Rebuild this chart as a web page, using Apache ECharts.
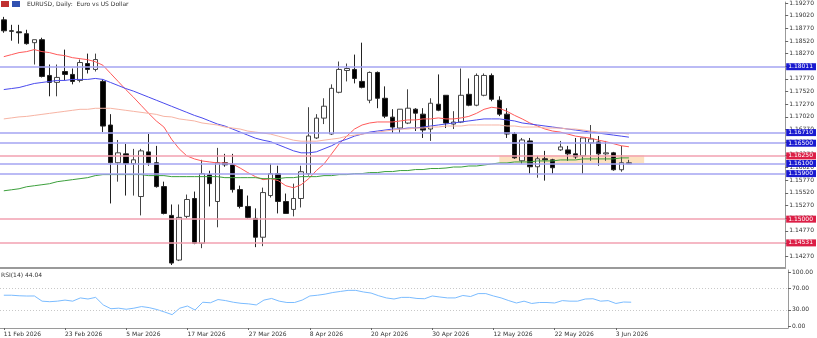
<!DOCTYPE html>
<html><head><meta charset="utf-8">
<script src="https://cdn.jsdelivr.net/npm/echarts@6/dist/echarts.min.js"></script>
<style>html,body{margin:0;padding:0;background:#fff}#c{width:817px;height:338px}</style>
</head><body><div id="c"></div>
<script>
// ---- data ----
const firstTradingDay = '2026-02-11';
const slotCount = 103; // chart width in daily slots (incl. empty right margin)

const opens = [1.18937,1.18721,1.18700,1.18663,1.18486,1.18545,1.17839,1.17702,1.17917,1.17859,1.17741,1.18074,1.17957,1.17721,1.16859,1.16114,1.16290,1.16094,1.15447,1.16329,1.16114,1.15643,1.15074,1.14192,1.15055,1.15408,1.14525,1.15878,1.15349,1.16114,1.16074,1.15584,1.15251,1.15015,1.14643,1.15466,1.15898,1.15349,1.15192,1.15408,1.15898,1.16604,1.16996,1.16682,1.17506,1.17937,1.17957,1.17721,1.17349,1.17898,1.17388,1.17015,1.16800,1.16898,1.17172,1.17074,1.16780,1.17270,1.17447,1.16878,1.16918,1.17466,1.17251,1.17447,1.17839,1.17349,1.17074,1.16682,1.16153,1.16545,1.16035,1.16192,1.16172,1.16368,1.16368,1.16290,1.16251,1.16506,1.16525,1.16290,1.16310,1.15976,1.16094];
const closes = [1.18721,1.18712,1.18682,1.18467,1.18545,1.17819,1.17702,1.17800,1.17859,1.17721,1.18094,1.17957,1.18153,1.16839,1.16114,1.16310,1.16094,1.16172,1.16349,1.16114,1.15643,1.15113,1.14133,1.15035,1.15388,1.14525,1.15898,1.15702,1.16114,1.16074,1.15584,1.15251,1.15035,1.14643,1.15525,1.15898,1.15349,1.15113,1.15408,1.15937,1.16643,1.16996,1.17231,1.17584,1.17957,1.17976,1.17780,1.17604,1.17898,1.17388,1.17035,1.16819,1.17172,1.17192,1.17094,1.16760,1.17290,1.17152,1.16898,1.16918,1.17447,1.17251,1.17839,1.17839,1.17368,1.17074,1.16682,1.16212,1.16564,1.16035,1.16192,1.16172,1.16016,1.16427,1.16290,1.16231,1.16604,1.16584,1.16290,1.16310,1.15976,1.16114,1.16114];
const lows = [1.18682,1.18525,1.18467,1.18447,1.18055,1.17800,1.17427,1.17427,1.17741,1.17663,1.17702,1.17878,1.17917,1.16721,1.15310,1.15741,1.15466,1.15466,1.15074,1.16055,1.15623,1.15094,1.14094,1.14172,1.15015,1.14505,1.14427,1.15251,1.14839,1.16035,1.15525,1.15212,1.15015,1.14447,1.14466,1.15427,1.15113,1.15113,1.15055,1.15231,1.15859,1.16584,1.16878,1.16662,1.17486,1.17721,1.17682,1.17584,1.17290,1.17192,1.16996,1.16702,1.16702,1.16878,1.16741,1.16604,1.16545,1.17133,1.16800,1.16780,1.16898,1.17231,1.17231,1.17427,1.17329,1.17035,1.16604,1.16192,1.16094,1.15898,1.15819,1.15761,1.15898,1.16349,1.16153,1.16192,1.15898,1.16153,1.16055,1.16153,1.15957,1.15937,1.16094];
const highs = [1.18996,1.18839,1.18839,1.18741,1.18545,1.18584,1.18055,1.18055,1.18349,1.17976,1.18153,1.18270,1.18270,1.17760,1.17074,1.16564,1.16486,1.16388,1.16388,1.16682,1.16447,1.15741,1.15290,1.15290,1.15486,1.15545,1.16172,1.15957,1.16408,1.16290,1.16290,1.15662,1.15466,1.15212,1.15623,1.16094,1.16055,1.15506,1.15702,1.16055,1.17211,1.17074,1.17388,1.17663,1.18114,1.18074,1.18251,1.18486,1.17917,1.17917,1.17623,1.17172,1.17172,1.17565,1.17192,1.17192,1.17388,1.17859,1.17447,1.17133,1.17976,1.17780,1.17878,1.17878,1.17878,1.17427,1.17192,1.16721,1.16604,1.16604,1.16251,1.16349,1.16192,1.16545,1.16447,1.16604,1.16604,1.16859,1.16643,1.16545,1.16329,1.16447,1.16172];

const maFast = [1.1821,1.1825,1.1829,1.1831,1.1835,1.1831,1.1829,1.1825,1.1823,1.1819,1.1817,1.1815,1.1811,1.1804,1.1788,1.1772,1.1756,1.1741,1.1725,1.1709,1.1694,1.1682,1.1658,1.1639,1.1625,1.1619,1.1615,1.1613,1.1611,1.1611,1.1609,1.1601,1.1592,1.1584,1.1578,1.1580,1.1576,1.1566,1.1562,1.1568,1.1580,1.1596,1.1609,1.1629,1.1649,1.1664,1.1678,1.1686,1.1690,1.1692,1.1692,1.1692,1.1694,1.1696,1.1696,1.1698,1.1698,1.1700,1.1698,1.1698,1.1700,1.1703,1.1709,1.1717,1.1721,1.1719,1.1713,1.1705,1.1698,1.1690,1.1684,1.1678,1.1674,1.1672,1.1668,1.1664,1.1662,1.1660,1.1656,1.1653,1.1649,1.1645,1.1643];
const maMid = [1.1756,1.1758,1.1760,1.1764,1.1768,1.1770,1.1772,1.1774,1.1774,1.1776,1.1776,1.1776,1.1778,1.1776,1.1770,1.1764,1.1758,1.1753,1.1747,1.1741,1.1735,1.1729,1.1723,1.1717,1.1711,1.1705,1.1700,1.1694,1.1688,1.1684,1.1678,1.1672,1.1666,1.1660,1.1656,1.1653,1.1647,1.1641,1.1635,1.1631,1.1631,1.1633,1.1639,1.1645,1.1653,1.1658,1.1664,1.1668,1.1672,1.1674,1.1676,1.1678,1.1678,1.1680,1.1680,1.1682,1.1684,1.1686,1.1688,1.1690,1.1692,1.1694,1.1696,1.1698,1.1698,1.1698,1.1696,1.1694,1.1690,1.1688,1.1686,1.1684,1.1682,1.1680,1.1678,1.1676,1.1674,1.1672,1.1670,1.1668,1.1666,1.1664,1.1662];
const maSlow = [1.1698,1.1700,1.1702,1.1703,1.1705,1.1707,1.1709,1.1711,1.1713,1.1715,1.1717,1.1717,1.1719,1.1719,1.1719,1.1717,1.1715,1.1713,1.1711,1.1709,1.1707,1.1703,1.1702,1.1698,1.1696,1.1694,1.1690,1.1688,1.1686,1.1682,1.1680,1.1678,1.1674,1.1672,1.1670,1.1668,1.1664,1.1660,1.1656,1.1654,1.1654,1.1654,1.1656,1.1658,1.1660,1.1664,1.1666,1.1668,1.1670,1.1672,1.1674,1.1676,1.1678,1.1678,1.1680,1.1680,1.1682,1.1682,1.1684,1.1684,1.1684,1.1686,1.1686,1.1686,1.1686,1.1686,1.1684,1.1684,1.1682,1.1682,1.1682,1.1680,1.1680,1.1680,1.1678,1.1678,1.1676,1.1674,1.1672,1.1672,1.1670,1.1670,1.1668];
const maLong = [1.1556,1.1558,1.1560,1.1564,1.1566,1.1568,1.1570,1.1574,1.1576,1.1578,1.1580,1.1582,1.1586,1.1588,1.1588,1.1588,1.1588,1.1588,1.1588,1.1586,1.1586,1.1586,1.1584,1.1584,1.1584,1.1584,1.1584,1.1584,1.1584,1.1582,1.1582,1.1582,1.1582,1.1582,1.1580,1.1580,1.1580,1.1582,1.1582,1.1584,1.1584,1.1584,1.1586,1.1586,1.1588,1.1588,1.1590,1.1590,1.1592,1.1592,1.1594,1.1594,1.1596,1.1596,1.1598,1.1598,1.1600,1.1600,1.1601,1.1603,1.1603,1.1605,1.1605,1.1607,1.1609,1.1611,1.1611,1.1613,1.1613,1.1613,1.1615,1.1615,1.1615,1.1617,1.1617,1.1617,1.1619,1.1619,1.1619,1.1619,1.1619,1.1621,1.1621];

const rsi = [57,57,56,55.5,55.6,46,45,46,48,46,52,50,53,39,32,33,31,33,36,34,30.5,26,21,33,37,29.6,44,43,49,47,44,42,41,39,48,51,46,43.5,43.5,48,55.6,57,59,62,64,66,66,63,61,56,52,50,53,53,51,50.5,55.6,53.7,52,52,56.5,54.6,60,60,55.6,52,47,42.6,46,41.7,43.5,43.5,42.6,47,46,46,50,50.5,46,47,41.7,44.4,44.04];

const priceTicks = [1.14270,1.14520,1.14770,1.15020,1.15270,1.15520,1.15770,1.16020,1.16270,1.16520,1.16770,1.17020,1.17270,1.17520,1.17770,1.18020,1.18270,1.18520,1.18770,1.19020,1.19270];
const rsiTicks = [100,70,30,0];
const rsiLevels = [70,30];

const blueLevels = [1.18011,1.16710,1.16500,1.16100,1.15900];
const redLevels = [1.16250,1.15000,1.14531];

const zoneStart = '13 May 2026', zoneEnd = '9 Jun 2026';
const zoneHigh = 1.16260, zoneLow = 1.16110;

const titleText = 'EURUSD, Daily:  Euro vs US Dollar';

// ---- build ----
const MONTHS = ['Jan','Feb','Mar','Apr','May','Jun','Jul','Aug','Sep','Oct','Nov','Dec'];
const categories = [];
{
  const p = firstTradingDay.split('-').map(Number);
  let t = Date.UTC(p[0], p[1]-1, p[2]);
  while (categories.length < slotCount) {
    const d = new Date(t);
    const wd = d.getUTCDay();
    if (wd !== 0 && wd !== 6) categories.push(d.getUTCDate() + ' ' + MONTHS[d.getUTCMonth()] + ' ' + d.getUTCFullYear());
    t += 86400000;
  }
}
const candles = opens.map((o, i) => [o, closes[i], lows[i], highs[i]]);
const lastIdx = opens.length - 1;
const showLbl = (idx) => idx % 8 === 0 && idx <= lastIdx;

const FONT = 'DejaVu Sans';
const levelLine = (v, line, box) => ({
  yAxis: v,
  lineStyle: { color: line, width: 1.5, type: 'solid' },
  label: { show: true, position: 'end', distance: 1, formatter: v.toFixed(5), color: '#fff',
           backgroundColor: box, fontSize: 6, fontFamily: FONT, padding: [1, 3, 0, 2] }
});

const chart = echarts.init(document.getElementById('c'), null, { renderer: 'canvas' });
chart.setOption({
  animation: false,
  backgroundColor: '#fff',
  grid: [
    { left: -5.45, right: 29, top: 0, height: 268 },
    { left: -5.45, right: 29, top: 270, height: 58 }
  ],
  xAxis: [
    { type: 'category', gridIndex: 0, data: categories, boundaryGap: true,
      axisLine: { show: true, onZero: false, lineStyle: { color: '#9a9a9a', width: 2 } },
      axisTick: { show: false }, axisLabel: { show: false }, splitLine: { show: false } },
    { type: 'category', gridIndex: 1, data: categories, boundaryGap: true,
      axisLine: { show: true, onZero: false, lineStyle: { color: '#9a9a9a', width: 1 } },
      axisTick: { show: true, alignWithLabel: true, interval: showLbl, length: 2, lineStyle: { color: '#666' } },
      axisLabel: { show: true, interval: showLbl, align: 'left', margin: 3, fontSize: 6, fontFamily: FONT, color: '#333' },
      splitLine: { show: false } }
  ],
  yAxis: [
    { type: 'value', gridIndex: 0, position: 'right', min: 1.14035, max: 1.19290,
      axisLine: { show: true, lineStyle: { color: '#9a9a9a', width: 1 } },
      axisTick: { show: true, customValues: priceTicks, length: 3, lineStyle: { color: '#666' } },
      axisLabel: { show: true, customValues: priceTicks, formatter: v => v.toFixed(5), margin: 4,
                   fontSize: 6, fontFamily: FONT, color: '#333' },
      splitLine: { show: false } },
    { type: 'value', gridIndex: 1, position: 'right', min: -3.7, max: 103.7,
      axisLine: { show: true, lineStyle: { color: '#9a9a9a', width: 1 } },
      axisTick: { show: true, customValues: rsiTicks, length: 3, lineStyle: { color: '#666' } },
      axisLabel: { show: true, customValues: rsiTicks, formatter: v => v.toFixed(2), margin: 4,
                   fontSize: 6, fontFamily: FONT, color: '#333' },
      splitLine: { show: false } }
  ],
  series: [
    { type: 'candlestick', name: 'EURUSD', xAxisIndex: 0, yAxisIndex: 0, data: candles, barWidth: 5,
      itemStyle: { color: '#ffffff', color0: '#000000', borderColor: '#444', borderColor0: '#222', borderWidth: 1 },
      markArea: { silent: true, itemStyle: { color: 'rgba(250,205,150,0.6)' },
        data: [[{ xAxis: zoneStart, yAxis: zoneHigh }, { xAxis: zoneEnd, yAxis: zoneLow }]] },
      markLine: { silent: true, precision: 5, symbol: ['none', 'none'], animation: false,
        data: blueLevels.map(v => levelLine(v, '#a4a4f2', '#1a1ad0'))
              .concat(redLevels.map(v => levelLine(v, '#f2a0b0', '#dc1e46'))) } },
    { type: 'line', name: 'MA fast', data: maFast, showSymbol: false, symbol: 'none',
      lineStyle: { color: '#ff5a5a', width: 1 }, z: 4 },
    { type: 'line', name: 'MA mid', data: maMid, showSymbol: false, symbol: 'none',
      lineStyle: { color: '#4a4aee', width: 1 }, z: 4 },
    { type: 'line', name: 'MA slow', data: maSlow, showSymbol: false, symbol: 'none',
      lineStyle: { color: '#f7b4a4', width: 1 }, z: 4 },
    { type: 'line', name: 'MA long', data: maLong, showSymbol: false, symbol: 'none',
      lineStyle: { color: '#3ca03c', width: 1 }, z: 4 },
    { type: 'line', name: 'RSI', xAxisIndex: 1, yAxisIndex: 1, data: rsi, showSymbol: false, symbol: 'none',
      lineStyle: { color: '#7bbcff', width: 1 },
      markLine: { silent: true, precision: 2, symbol: ['none', 'none'], label: { show: false },
        lineStyle: { color: '#c8c8c8', type: [1, 2], width: 1 },
        data: rsiLevels.map(v => ({ yAxis: v })) } }
  ],
  graphic: [
    { type: 'rect', left: 1, top: 1, shape: { width: 8, height: 6 }, style: { fill: '#c03030' } },
    { type: 'rect', left: 12, top: 1, shape: { width: 8, height: 6 }, style: { fill: '#3050b0' } },
    { type: 'text', left: 27, top: 1, style: { text: titleText, fontSize: 6, fontFamily: FONT, fill: '#333' } },
    { type: 'text', left: 1, top: 272, style: { text: 'RSI(14) ' + rsi[lastIdx].toFixed(2), fontSize: 6, fontFamily: FONT, fill: '#333' } }
  ]
});
</script></body></html>
